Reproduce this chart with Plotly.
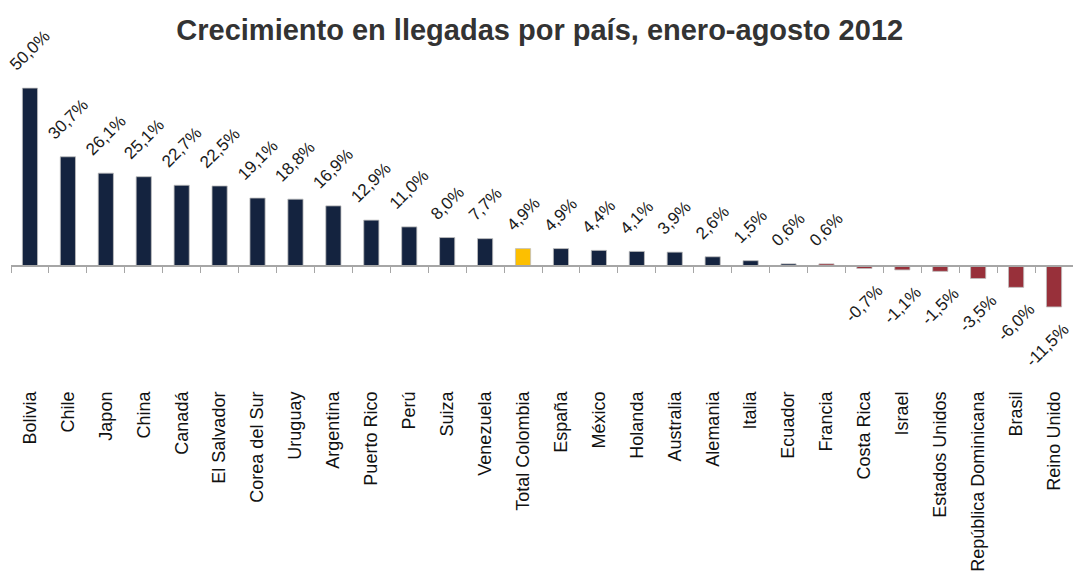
import plotly.graph_objects as go

# Datos: crecimiento de llegadas por pais, enero-agosto 2012 (%)
paises = ['Bolivia', 'Chile', 'Japon', 'China', 'Canadá', 'El Salvador',
          'Corea del Sur', 'Uruguay', 'Argentina', 'Puerto Rico', 'Perú',
          'Suiza', 'Venezuela', 'Total Colombia', 'España', 'México',
          'Holanda', 'Australia', 'Alemania', 'Italia', 'Ecuador', 'Francia',
          'Costa Rica', 'Israel', 'Estados Unidos', 'República Dominicana',
          'Brasil', 'Reino Unido']
crecimiento = [50.0, 30.7, 26.1, 25.1, 22.7, 22.5, 19.1, 18.8, 16.9, 12.9,
               11.0, 8.0, 7.7, 4.9, 4.9, 4.4, 4.1, 3.9, 2.6, 1.5, 0.6, 0.6,
               -0.7, -1.1, -1.5, -3.5, -6.0, -11.5]
en_rojo = ['Francia']
total = 'Total Colombia'

NAVY = '#14233f'
AMARILLO = '#fdbf00'
ROJO = '#98303a'
GRIS = '#a6a6a6'
FUENTE = 'Liberation Sans, Arial'

colores = []
for p, v in zip(paises, crecimiento):
    if p == total:
        colores.append(AMARILLO)
    elif v < 0 or p in en_rojo:
        colores.append(ROJO)
    else:
        colores.append(NAVY)

ymin, ymax = -34.0, 57.9
n = len(paises)

fig = go.Figure()
fig.add_trace(go.Bar(
    x=paises, y=crecimiento,
    marker=dict(color=colores, line=dict(color='rgba(190,190,190,0.8)', width=1)),
    hoverinfo='x+y',
))
# eje en cero con marcas entre categorias
fig.add_trace(go.Scatter(
    x=paises, y=[0] * n, xaxis='x2', mode='markers',
    marker=dict(opacity=0), hoverinfo='skip', showlegend=False,
))

# etiquetas de datos giradas
for i, (p, v) in enumerate(zip(paises, crecimiento)):
    txt = f'{v:.1f}%'.replace('.', ',')
    fig.add_annotation(
        x=p, y=v, text=txt, textangle=-45, showarrow=False,
        xanchor='center',
        yanchor='bottom' if v >= 0 else 'top',
        yshift=11 if v >= 0 else -10,
        xshift=-7 if i == n - 1 else 0,   # la ultima no cabe en el borde
        font=dict(family=FUENTE, size=17, color='#1a1a1a'),
    )

fig.update_layout(
    width=1073, height=573,
    margin=dict(l=11, r=0, t=60, b=186, autoexpand=False),
    paper_bgcolor='white', plot_bgcolor='white',
    showlegend=False,
    bargap=0.6,
    title=dict(text='<b>Crecimiento en llegadas por país, enero-agosto 2012</b>',
               x=0.503, xanchor='center', y=0.948, yanchor='middle',
               font=dict(family=FUENTE, size=29, color='#333333')),
    font=dict(family=FUENTE, color='#111111'),
    xaxis=dict(range=[-0.5, n - 0.5], tickangle=-90, showline=False, ticks='',
               showgrid=False, automargin=False,
               tickfont=dict(size=18, color='#111111')),
    xaxis2=dict(matches='x', overlaying='x', anchor='free',
                position=(0 - ymin) / (ymax - ymin), automargin=False,
                showline=True, linecolor=GRIS, linewidth=2,
                ticks='outside', ticklen=6, tickcolor=GRIS, tickwidth=1,
                tickson='boundaries', showticklabels=False, showgrid=False),
    yaxis=dict(range=[ymin, ymax], visible=False, showgrid=False,
               zeroline=False, automargin=False),
)

# quitar el margen por defecto del body para que la figura llene la ventana
fig.write_html('out.html', config={'displayModeBar': False},
               post_script="document.body.style.margin='0';")
